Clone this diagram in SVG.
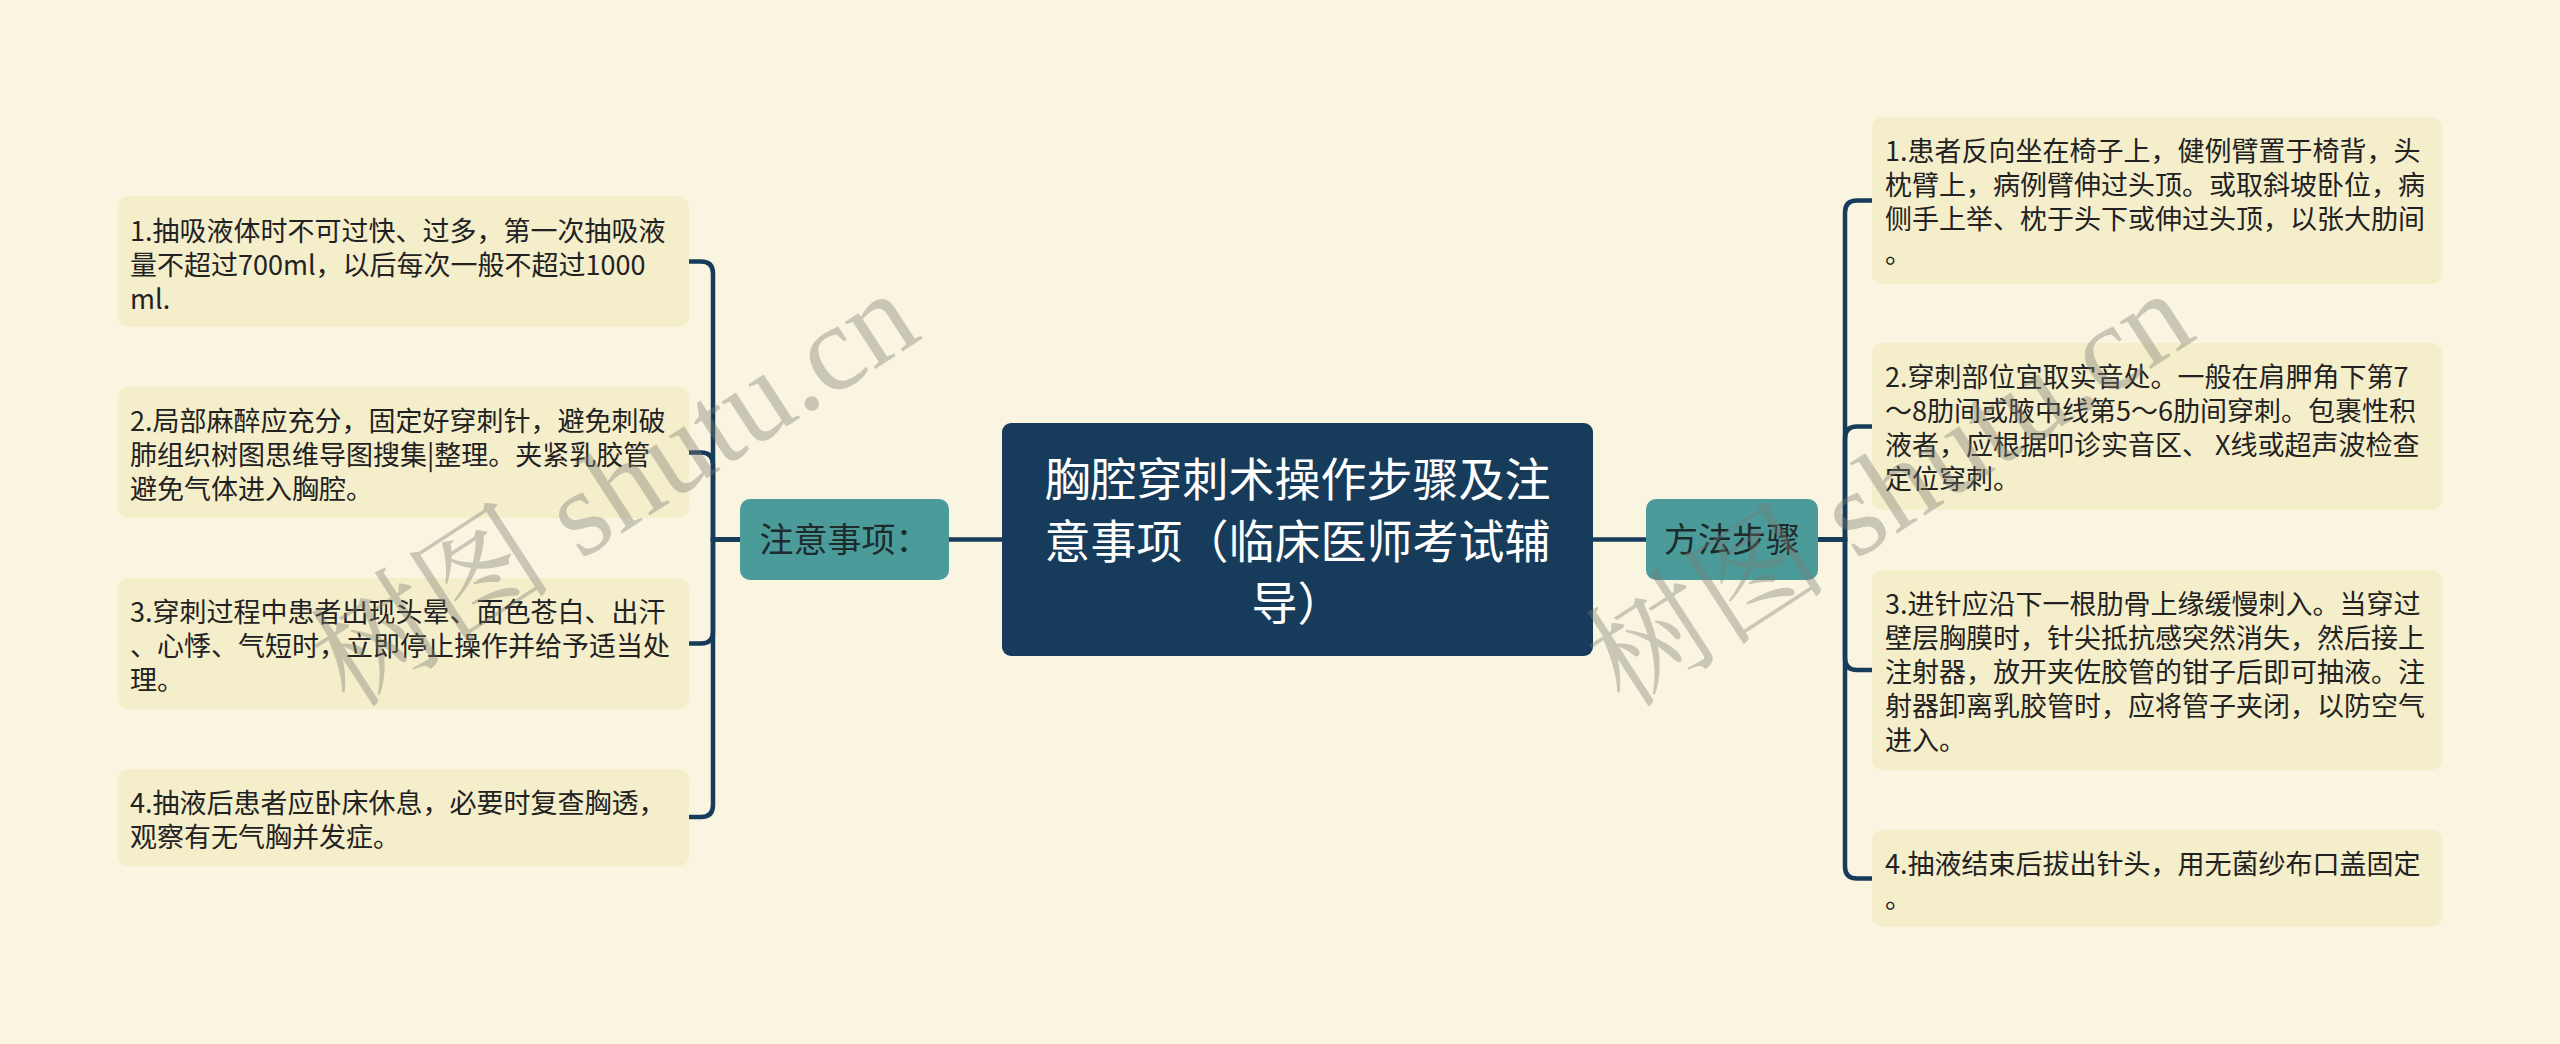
<svg xmlns="http://www.w3.org/2000/svg" width="2560" height="1044" viewBox="0 0 2560 1044">
<style>
.bg{fill:#faf5e0}
.leaf{fill:#f5eecb}
.lt{font-family:"Noto Sans CJK SC","Noto Sans",sans-serif;font-size:27px;fill:#222}
.sub{fill:#4b9b9b}
.st{font-family:"Noto Sans CJK SC","Noto Sans",sans-serif;font-size:34px;fill:#1e2b2b;text-anchor:middle}
.root{fill:#173c5b}
.rt{font-family:"Noto Sans CJK SC","Noto Sans",sans-serif;font-size:46px;fill:#ffffff;text-anchor:middle}
.con{fill:none;stroke:#173c5b;stroke-width:4.5;stroke-linecap:round}
.wm{font-family:"Liberation Serif","Noto Serif CJK SC","Noto Sans CJK SC",serif;font-size:122px;fill:#7a7a70;fill-opacity:0.38}
</style>
<rect class="bg" x="0" y="0" width="2560" height="1044"/>

<g id="connectors">
<path class="con" d="M949,539.5 H1002"/>
<path class="con" d="M1593,539.5 H1646"/>
<path class="con" d="M740,539.5 H713 V273.5 Q713,261.5 701,261.5 H689"/>
<path class="con" d="M740,539.5 H713 V464.5 Q713,452.5 701,452.5 H689"/>
<path class="con" d="M740,539.5 H713 V631.5 Q713,643.5 701,643.5 H689"/>
<path class="con" d="M740,539.5 H713 V805 Q713,817 701,817 H689"/>
<path class="con" d="M1818,539.5 H1845 V212.5 Q1845,200.5 1857,200.5 H1872"/>
<path class="con" d="M1818,539.5 H1845 V438.5 Q1845,426.5 1857,426.5 H1872"/>
<path class="con" d="M1818,539.5 H1845 V658 Q1845,670 1857,670 H1872"/>
<path class="con" d="M1818,539.5 H1845 V866.5 Q1845,878.5 1857,878.5 H1872"/>
</g>

<g id="root">
<rect class="root" x="1002" y="423" width="591" height="233" rx="9"/>
<text class="rt" x="1297.5" y="496">胸腔穿刺术操作步骤及注</text>
<text class="rt" x="1297.5" y="558">意事项（临床医师考试辅</text>
<text class="rt" x="1297.5" y="620">导）</text>
</g>

<g id="notes">
<rect class="sub" x="740" y="499" width="209" height="81" rx="10"/>
<text class="st" x="844.5" y="552">注意事项：</text>
</g>

<g id="steps">
<rect class="sub" x="1646" y="499" width="172" height="81" rx="10"/>
<text class="st" x="1732" y="552">方法步骤</text>
</g>

<g id="note1">
<rect class="leaf" x="118" y="196" width="571" height="131" rx="10"/>
<text class="lt" x="130" y="241">1.抽吸液体时不可过快、过多，第一次抽吸液</text>
<text class="lt" x="130" y="275">量不超过700ml，以后每次一般不超过1000</text>
<text class="lt" x="130" y="309">ml.</text>
</g>
<g id="note2">
<rect class="leaf" x="118" y="387" width="571" height="131" rx="10"/>
<text class="lt" x="130" y="431">2.局部麻醉应充分，固定好穿刺针，避免刺破</text>
<text class="lt" x="130" y="465">肺组织树图思维导图搜集|整理。夹紧乳胶管</text>
<text class="lt" x="130" y="499">避免气体进入胸腔。</text>
</g>
<g id="note3">
<rect class="leaf" x="118" y="578" width="571" height="131" rx="10"/>
<text class="lt" x="130" y="622">3.穿刺过程中患者出现头晕、面色苍白、出汗</text>
<text class="lt" x="130" y="656">、心悸、气短时，立即停止操作并给予适当处</text>
<text class="lt" x="130" y="690">理。</text>
</g>
<g id="note4">
<rect class="leaf" x="118" y="769" width="571" height="97" rx="10"/>
<text class="lt" x="130" y="813">4.抽液后患者应卧床休息，必要时复查胸透，</text>
<text class="lt" x="130" y="847">观察有无气胸并发症。</text>
</g>

<g id="step1">
<rect class="leaf" x="1872" y="117" width="570" height="167" rx="10"/>
<text class="lt" x="1885" y="161">1.患者反向坐在椅子上，健例臂置于椅背，头</text>
<text class="lt" x="1885" y="195">枕臂上，病例臂伸过头顶。或取斜坡卧位，病</text>
<text class="lt" x="1885" y="229">侧手上举、枕于头下或伸过头顶，以张大肋间</text>
<text class="lt" x="1885" y="263">。</text>
</g>
<g id="step2">
<rect class="leaf" x="1872" y="343" width="570" height="167" rx="10"/>
<text class="lt" x="1885" y="387">2.穿刺部位宜取实音处。一般在肩胛角下第7</text>
<text class="lt" x="1885" y="421">～8肋间或腋中线第5～6肋间穿刺。包裹性积</text>
<text class="lt" x="1885" y="455">液者，应根据叩诊实音区、 X线或超声波检查</text>
<text class="lt" x="1885" y="489">定位穿刺。</text>
</g>
<g id="step3">
<rect class="leaf" x="1872" y="570" width="570" height="200" rx="10"/>
<text class="lt" x="1885" y="614">3.进针应沿下一根肋骨上缘缓慢刺入。当穿过</text>
<text class="lt" x="1885" y="648">壁层胸膜时，针尖抵抗感突然消失，然后接上</text>
<text class="lt" x="1885" y="682">注射器，放开夹佐胶管的钳子后即可抽液。注</text>
<text class="lt" x="1885" y="716">射器卸离乳胶管时，应将管子夹闭，以防空气</text>
<text class="lt" x="1885" y="750">进入。</text>
</g>
<g id="step4">
<rect class="leaf" x="1872" y="830" width="570" height="97" rx="10"/>
<text class="lt" x="1885" y="874">4.抽液结束后拔出针头，用无菌纱布口盖固定</text>
<text class="lt" x="1885" y="908">。</text>
</g>

<g id="watermark">
<text class="wm" transform="translate(350,710) rotate(-33)">树图 shutu.cn</text>
<text class="wm" transform="translate(1625,710) rotate(-33)">树图 shutu.cn</text>
</g>
</svg>
